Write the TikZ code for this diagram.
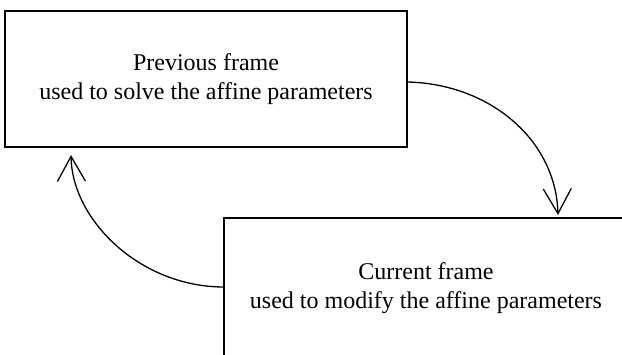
\documentclass[tikz,border=0pt]{standalone}
\usepackage{fontspec}
\setmainfont{Liberation Serif}
\usetikzlibrary{arrows.meta}
\begin{document}
\begin{tikzpicture}[x=1pt,y=-1pt,
  framebox/.style={draw=black,line width=1.5pt,minimum width=402pt,minimum height=136pt,
    inner sep=0pt,align=center,font=\fontsize{24}{29}\selectfont},
  flow/.style={line width=1.3pt,-{Straight Barb[length=25pt,width=28pt,line width=1.3pt]}}]
\useasboundingbox (0,0) rectangle (622,354);
\begin{scope}
\clip (0,0) rectangle (622,354);
\node[framebox] (prev) at (206,79) {Previous frame\\used to solve the affine parameters};
\node[framebox,minimum width=404pt,minimum height=140pt] (cur) at (426,288) {Current frame\\used to modify the affine parameters};
\end{scope}
\coordinate (p1) at ([yshift=-3pt]prev.east);
\coordinate (p2) at (558,215);
\coordinate (c1) at (224,287);
\coordinate (c2) at (71,155);
\draw[flow] (p1) .. controls (490,84) and (556,140) .. (p2);
\draw[flow] (c1) .. controls (140,287) and (72,220) .. (c2);
\end{tikzpicture}
\end{document}
